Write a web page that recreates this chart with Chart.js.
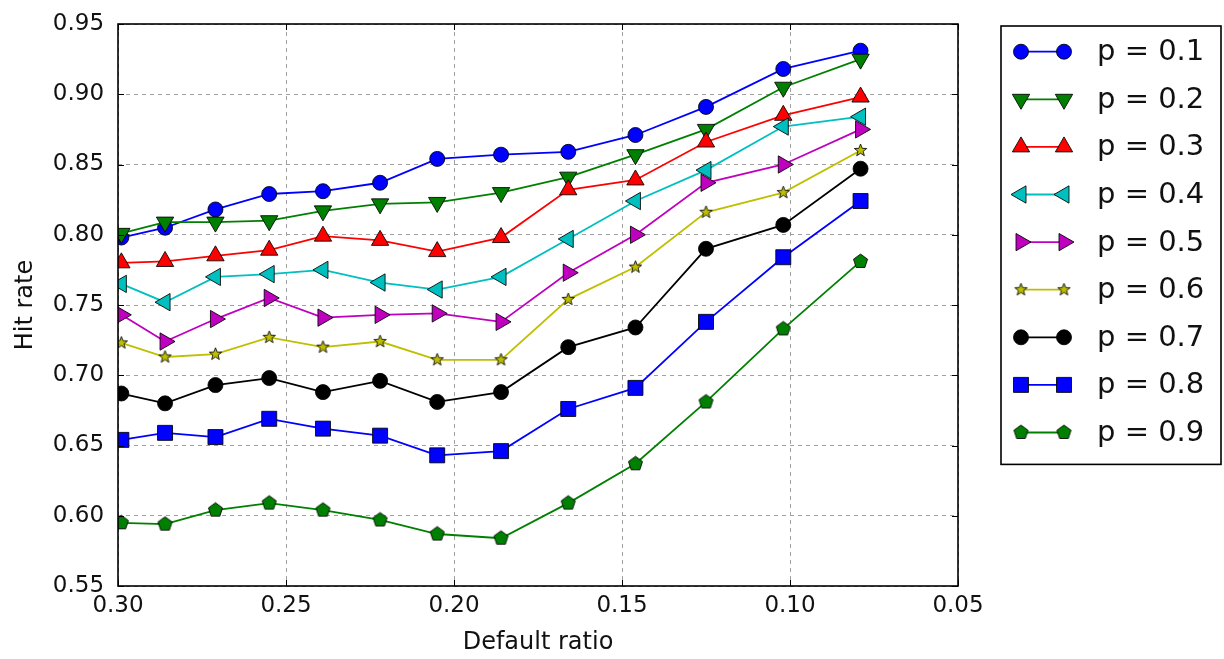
<!DOCTYPE html>
<html>
<head>
<meta charset="utf-8">
<script src="https://cdn.jsdelivr.net/npm/chart.js@4/dist/chart.umd.min.js"></script>
<style>
  body { margin: 0; background: #fff; }
  #wrap { width: 1224px; height: 659px; }
</style>
</head>
<body>
<div id="wrap"><canvas id="hitRate" width="1224" height="659"></canvas></div>
<script>
// default ratio on the x axis (axis runs from 0.30 down to 0.05)
const defaultRatios = [0.299, 0.286, 0.271, 0.255, 0.239, 0.222, 0.205, 0.186, 0.166, 0.146, 0.125, 0.102, 0.079];

// hit rate for each p
const hitP01 = [0.798, 0.805, 0.818, 0.829, 0.831, 0.837, 0.854, 0.857, 0.859, 0.871, 0.891, 0.918, 0.931];
const hitP02 = [0.801, 0.809, 0.809, 0.810, 0.817, 0.822, 0.823, 0.830, 0.841, 0.857, 0.875, 0.905, 0.925];
const hitP03 = [0.780, 0.781, 0.785, 0.789, 0.799, 0.796, 0.788, 0.798, 0.832, 0.839, 0.866, 0.885, 0.898];
const hitP04 = [0.765, 0.752, 0.770, 0.772, 0.775, 0.766, 0.761, 0.770, 0.797, 0.824, 0.846, 0.877, 0.884];
const hitP05 = [0.743, 0.724, 0.740, 0.755, 0.741, 0.743, 0.744, 0.738, 0.773, 0.800, 0.837, 0.850, 0.875];
const hitP06 = [0.723, 0.713, 0.715, 0.727, 0.720, 0.724, 0.711, 0.711, 0.754, 0.777, 0.816, 0.830, 0.860];
const hitP07 = [0.687, 0.680, 0.693, 0.698, 0.688, 0.696, 0.681, 0.688, 0.720, 0.734, 0.790, 0.807, 0.847];
const hitP08 = [0.654, 0.659, 0.656, 0.669, 0.662, 0.657, 0.643, 0.646, 0.676, 0.691, 0.738, 0.784, 0.824];
const hitP09 = [0.595, 0.594, 0.604, 0.609, 0.604, 0.597, 0.587, 0.584, 0.609, 0.637, 0.681, 0.733, 0.781];

const seriesLabels = ['p = 0.1', 'p = 0.2', 'p = 0.3', 'p = 0.4', 'p = 0.5', 'p = 0.6', 'p = 0.7', 'p = 0.8', 'p = 0.9'];
const seriesValues = [hitP01, hitP02, hitP03, hitP04, hitP05, hitP06, hitP07, hitP08, hitP09];

// axis ranges and tick step
const xMin = 0.05, xMax = 0.30, yMin = 0.55, yMax = 0.95, tickStep = 0.05;

Chart.defaults.font.family = "'DejaVu Sans', sans-serif";
Chart.defaults.color = '#111';

// matplotlib has a filled star and a pentagon, Chart.js does not, so draw them once
function polygonMarker(color, radius, points, inner) {
  const size = Math.ceil(radius * 2 + 4);
  const c = document.createElement('canvas');
  c.width = size;
  c.height = size;
  const g = c.getContext('2d');
  const cx = size / 2, cy = size / 2;
  const step = inner ? Math.PI / points : (2 * Math.PI) / points;
  const count = inner ? points * 2 : points;
  g.beginPath();
  for (let i = 0; i < count; i++) {
    const r = inner && i % 2 === 1 ? radius * inner : radius;
    const a = -Math.PI / 2 + i * step;
    const px = cx + r * Math.cos(a);
    const py = cy + r * Math.sin(a);
    if (i === 0) g.moveTo(px, py); else g.lineTo(px, py);
  }
  g.closePath();
  g.fillStyle = color;
  g.fill();
  g.lineWidth = 1;
  g.strokeStyle = 'rgba(0,0,0,0.85)';
  g.stroke();
  return c;
}

const markers = [
  { color: '#0000ff', style: 'circle', radius: 7.5, rotation: 0 },
  { color: '#008000', style: 'triangle', radius: 10, rotation: 180 },
  { color: '#ff0000', style: 'triangle', radius: 10, rotation: 0 },
  { color: '#00bfbf', style: 'triangle', radius: 10, rotation: 270 },
  { color: '#bf00bf', style: 'triangle', radius: 10, rotation: 90 },
  { color: '#bfbf00', style: polygonMarker('#bfbf00', 6.5, 5, 0.42), radius: 7, rotation: 0 },
  { color: '#000000', style: 'circle', radius: 7.5, rotation: 0 },
  { color: '#0000ff', style: 'rect', radius: 10.6, rotation: 0 },
  { color: '#008000', style: polygonMarker('#008000', 7.4, 5, 0), radius: 7.5, rotation: 0 },
];

const datasets = seriesValues.map((values, i) => ({
  label: seriesLabels[i],
  data: values.map((v, j) => ({ x: defaultRatios[j], y: v })),
  borderColor: markers[i].color,
  borderWidth: 1.8,
  backgroundColor: markers[i].color,
  pointStyle: markers[i].style,
  pointRadius: markers[i].radius,
  pointHoverRadius: markers[i].radius,
  pointRotation: markers[i].rotation,
  pointBackgroundColor: markers[i].color,
  pointBorderColor: 'rgba(0,0,0,0.85)',
  pointBorderWidth: 1,
  tension: 0,
  clip: 0,
  // later series sit on top, like matplotlib
  order: seriesValues.length - i,
}));

// box around the plot plus the small inward ticks on all four sides
const axesFrame = {
  id: 'axesFrame',
  afterDatasetsDraw(chart) {
    const { ctx, chartArea: a, scales } = chart;
    ctx.save();
    ctx.strokeStyle = '#000';
    ctx.lineWidth = 1;
    ctx.beginPath();
    scales.x.ticks.forEach((t) => {
      const px = Math.round(scales.x.getPixelForValue(t.value)) + 0.5;
      ctx.moveTo(px, a.bottom); ctx.lineTo(px, a.bottom - 6);
      ctx.moveTo(px, a.top); ctx.lineTo(px, a.top + 6);
    });
    scales.y.ticks.forEach((t) => {
      const py = Math.round(scales.y.getPixelForValue(t.value)) + 0.5;
      ctx.moveTo(a.left, py); ctx.lineTo(a.left + 6, py);
      ctx.moveTo(a.right, py); ctx.lineTo(a.right - 6, py);
    });
    ctx.stroke();
    ctx.lineWidth = 1.6;
    ctx.strokeRect(a.left, a.top, a.right - a.left, a.bottom - a.top);
    ctx.restore();
  }
};

// legend in a framed box to the right of the plot: line with a marker at each end
const boxLegend = {
  id: 'boxLegend',
  afterDraw(chart) {
    const { ctx, chartArea: a } = chart;
    const sets = chart.data.datasets;
    const rowH = 47.6;
    const left = a.right + 43;
    const top = a.top + 2;
    const width = 220;
    const height = rowH * sets.length + 10;
    ctx.save();
    ctx.fillStyle = '#fff';
    ctx.fillRect(left, top, width, height);
    ctx.strokeStyle = '#000';
    ctx.lineWidth = 1.6;
    ctx.strokeRect(left, top, width, height);
    sets.forEach((ds, i) => {
      const y = top + 25.7 + i * rowH;
      const x1 = left + 20, x2 = left + 63;
      ctx.strokeStyle = ds.borderColor;
      ctx.lineWidth = ds.borderWidth;
      ctx.beginPath();
      ctx.moveTo(x1, y);
      ctx.lineTo(x2, y);
      ctx.stroke();
      ctx.fillStyle = ds.pointBackgroundColor;
      ctx.strokeStyle = ds.pointBorderColor;
      ctx.lineWidth = ds.pointBorderWidth;
      const opts = { pointStyle: ds.pointStyle, radius: ds.pointRadius, rotation: ds.pointRotation, borderWidth: ds.pointBorderWidth };
      Chart.helpers.drawPoint(ctx, opts, x1, y);
      Chart.helpers.drawPoint(ctx, opts, x2, y);
      ctx.fillStyle = '#111';
      ctx.font = "29px 'DejaVu Sans', sans-serif";
      ctx.textBaseline = 'middle';
      ctx.textAlign = 'left';
      ctx.fillText(ds.label, left + 96, y + 1);
    });
    ctx.restore();
  }
};

const ctx = document.getElementById('hitRate').getContext('2d');
new Chart(ctx, {
  type: 'line',
  data: { datasets: datasets },
  options: {
    responsive: false,
    animation: false,
    devicePixelRatio: 1,
    layout: { padding: { left: 6, right: 266, top: 24, bottom: 0 } },
    plugins: {
      legend: { display: false },
      tooltip: { enabled: false },
    },
    scales: {
      x: {
        type: 'linear',
        reverse: true,
        min: xMin,
        max: xMax,
        ticks: {
          stepSize: tickStep,
          padding: 6.5,
          font: { size: 23 },
          callback: (v) => v.toFixed(2),
        },
        grid: { color: '#a0a0a0', lineWidth: 1, drawTicks: false },
        border: { display: false, dash: [4, 4] },
        title: { display: true, text: 'Default ratio', font: { size: 24 }, padding: { top: 2, bottom: 1.6 } },
      },
      y: {
        min: yMin,
        max: yMax,
        ticks: {
          stepSize: tickStep,
          padding: 14,
          font: { size: 23 },
          callback: (v) => v.toFixed(2),
        },
        grid: { color: '#a0a0a0', lineWidth: 1, drawTicks: false },
        border: { display: false, dash: [4, 4] },
        title: { display: true, text: 'Hit rate', font: { size: 24 }, padding: { top: 5, bottom: -1 } },
        // the label padding would otherwise push the plot top down
        afterFit: (scale) => { scale.paddingTop = 0; },
      },
    },
  },
  plugins: [axesFrame, boxLegend],
});
</script>
</body>
</html>
